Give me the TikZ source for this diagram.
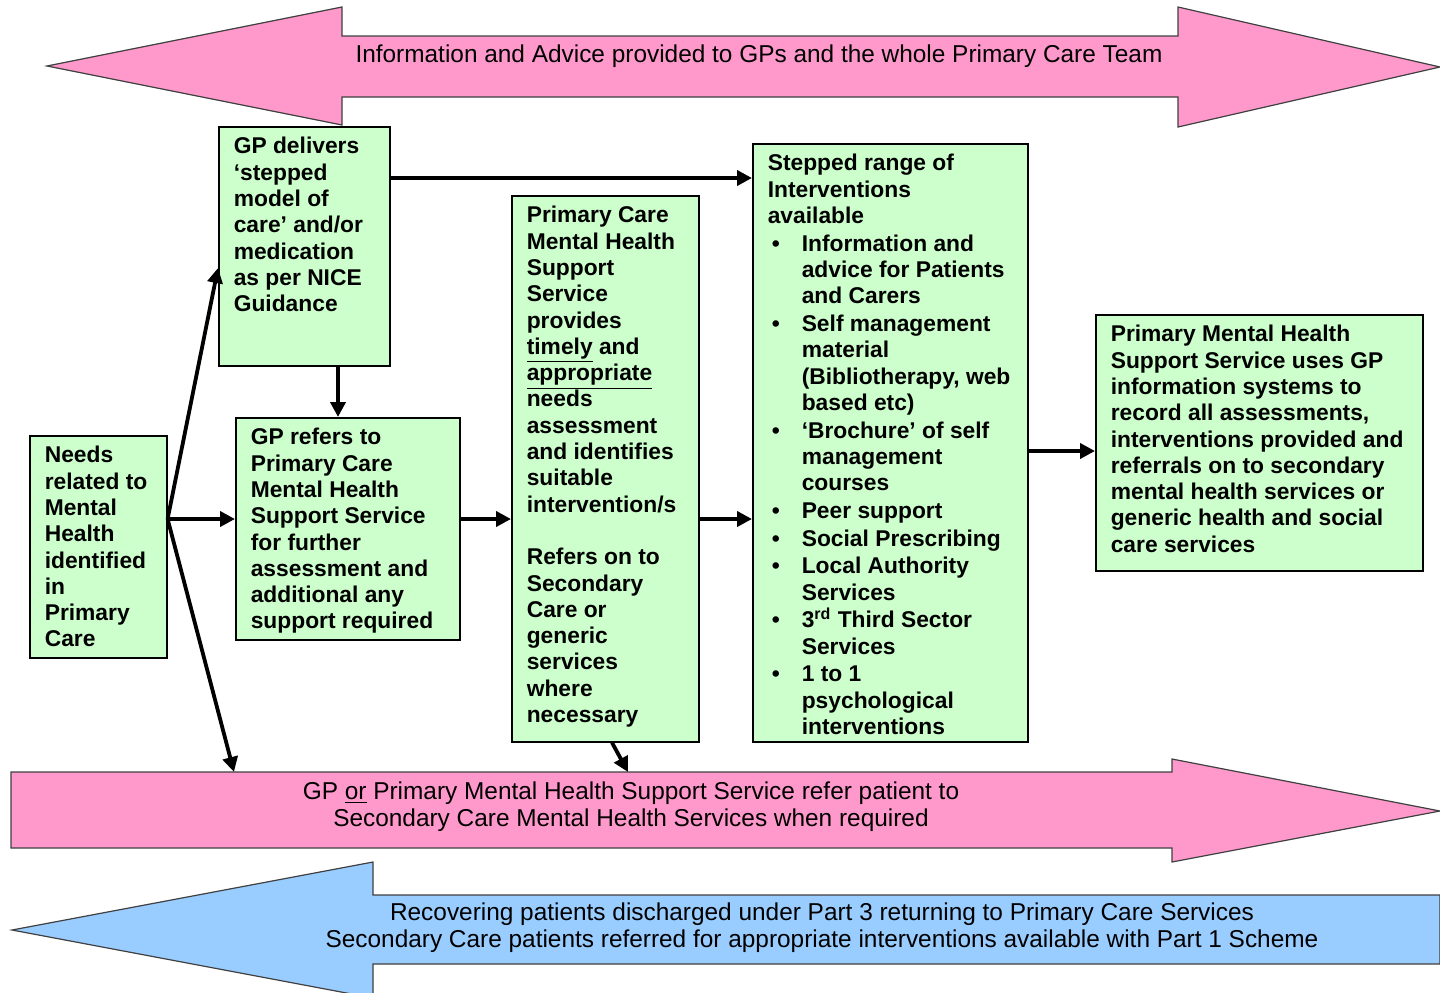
\documentclass[tikz,border=0pt]{standalone}
\usepackage{fontspec}
\setmainfont{Liberation Sans}
\usetikzlibrary{arrows.meta,calc}
\definecolor{boxgreen}{RGB}{204,255,204}
\definecolor{bpink}{RGB}{255,153,204}
\definecolor{bblue}{RGB}{153,204,255}
\newcommand{\nl}{\newline}
\newcommand{\bt}[3]{\hbox to #1{\vbox to #2{\hsize=500pt\parindent=0pt\parskip=0pt\leftskip=7.5pt\rightskip=0pt plus 1fil\baselineskip=13.15pt\noindent\rule{0pt}{13.5pt}#3\par\vfil}\hss}}
\newcommand{\itm}{\par\vskip0.7pt\hangindent=17pt\hangafter=1\noindent\hbox to 17pt{\hskip2pt\textbullet\hss}}
\tikzset{
  box/.style={draw=black, line width=0.8pt, fill=boxgreen, anchor=north west, inner sep=0pt,
              font=\fontsize{11.4}{13.15}\selectfont\bfseries},
  conn/.style={line width=1.9pt, -{Triangle[length=7.5pt,width=7.5pt]}},
  banner/.style={draw=black!75, line width=0.6pt},
  btext/.style={font=\fontsize{12.2}{13.5}\selectfont, align=center, inner sep=0pt}
}
\begin{document}
\begin{tikzpicture}[x=0.5pt,y=-0.5pt]
\useasboundingbox (0,0) rectangle (1440,992);
% top double arrow
\path[banner, fill=bpink] (47,66) -- (342,7) -- (342,36) -- (1178,36) -- (1178,7) -- (1440,67)
  -- (1178,127) -- (1178,97) -- (342,97) -- (342,125) -- cycle;
\node[btext, anchor=base] (toptext) at (759,62) {Information and Advice provided to GPs and the whole Primary Care Team};
% middle pink arrow
\path[banner, fill=bpink] (11,772) -- (1172,772) -- (1172,759) -- (1440,811) -- (1172,862) -- (1172,848) -- (11,848) -- cycle;
\node[btext] (midtext) at (631,807) {GP \underline{or} Primary Mental Health Support Service refer patient to\\Secondary Care Mental Health Services when required};
% bottom blue arrow
\path[banner, fill=bblue] (12,930) -- (373,862) -- (373,895) -- (1440,895) -- (1440,964) -- (373,964) -- (373,998) -- cycle;
\node[btext] (bottext) at (822,928) {Recovering patients discharged under Part 3 returning to Primary Care Services\\Secondary Care patients referred for appropriate interventions available with Part 1 Scheme};
\coordinate (pa) at (234,772);
\coordinate (pb) at (628,772);
% boxes
\node[box] (a) at (29,435) {\bt{68.5pt}{111pt}{Needs\nl related to\nl Mental\nl Health\nl identified\nl in\nl Primary\nl Care}};
\node[box] (b) at (218,126) {\bt{85.5pt}{119.5pt}{GP delivers\nl ‘stepped\nl model of\nl care’ and/or\nl medication\nl as per NICE\nl Guidance}};
\node[box] (c) at (235,417) {\bt{112pt}{111pt}{GP refers to\nl Primary Care\nl Mental Health\nl Support Service\nl for further\nl assessment and\nl additional any\nl support required}};
\node[box] (d) at (511,195) {\bt{93.5pt}{273pt}{Primary Care\nl Mental Health\nl Support\nl Service\nl provides\nl \underline{timely} and\nl \underline{appropriate}\nl needs\nl assessment\nl and identifies\nl suitable\nl intervention/s\par\vskip13.15pt\noindent Refers on to\nl Secondary\nl Care or\nl generic\nl services\nl where\nl necessary}};
\node[box] (e) at (752,143) {\bt{137.5pt}{299pt}{Stepped range of\nl Interventions\nl available
\itm Information and\nl advice for Patients\nl and Carers
\itm Self management\nl material\nl (Bibliotherapy, web\nl based etc)
\itm ‘Brochure’ of self\nl management\nl courses
\itm Peer support
\itm Social Prescribing
\itm Local Authority\nl Services
\itm 3\textsuperscript{rd} Third Sector\nl Services
\itm 1 to 1\nl psychological\nl interventions}};
\node[box] (f) at (1095,314) {\bt{163.5pt}{128pt}{Primary Mental Health\nl Support Service uses GP\nl information systems to\nl record all assessments,\nl interventions provided and\nl referrals on to secondary\nl mental health services or\nl generic health and social\nl care services}};
% connectors
\coordinate (ao) at ($(a.north east)+(0,84)$);
\coordinate (bo) at ($(b.north east)+(0,52)$);
\coordinate (bd) at ($(b.south west)+(120,0)$);
\coordinate (dd) at ($(d.south west)+(101,0)$);
\coordinate (eo) at ($(e.north east)+(0,308)$);
\draw[conn] (ao) -- (c.west |- ao);
\draw[conn] (ao) -- ($(b.north west)+(0,142)$);
\draw[conn] (ao) -- (pa);
\draw[conn] (bd) -- (bd |- c.north);
\draw[conn] (bo) -- (e.west |- bo);
\draw[conn] (c.east |- ao) -- (d.west |- ao);
\draw[conn] (d.east |- ao) -- (e.west |- ao);
\draw[conn] (eo) -- (f.west |- eo);
\draw[conn] (dd) -- (pb);
\end{tikzpicture}
\end{document}
